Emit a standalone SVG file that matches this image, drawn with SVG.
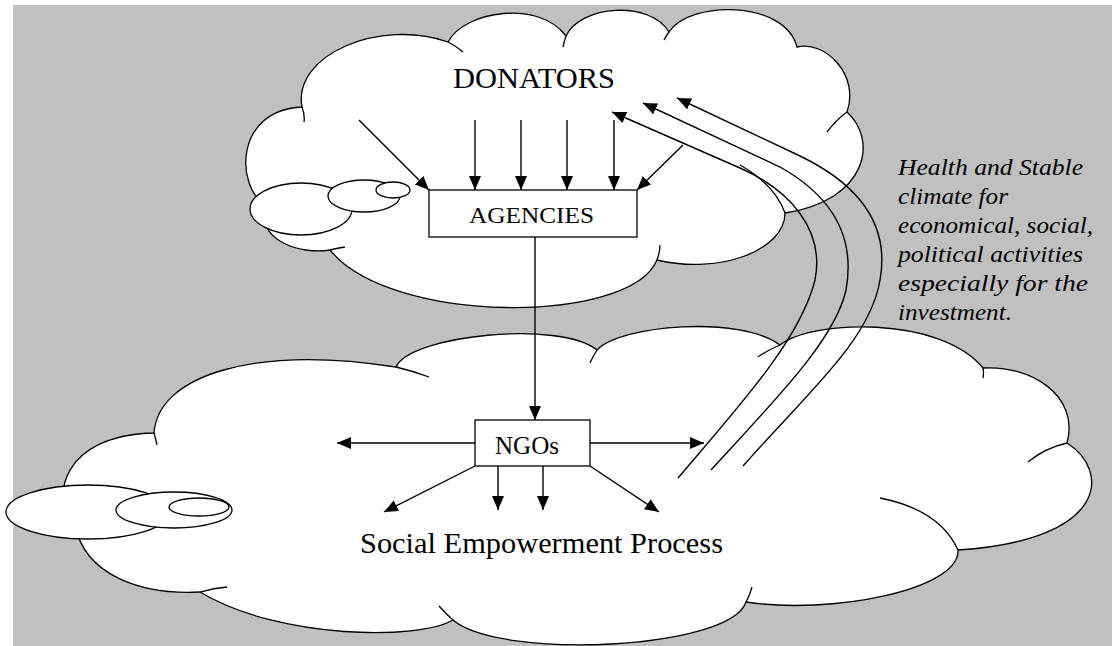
<svg xmlns="http://www.w3.org/2000/svg" width="1112" height="646" viewBox="0 0 1112 646">
<style>
.cloud{fill:#fff;stroke:#000;stroke-width:1.3}
.inner{fill:none;stroke:#000;stroke-width:1.3}
.box{fill:#fff;stroke:#000;stroke-width:1.3}
.conn{fill:none;stroke:#000;stroke-width:1.4}
.lbl{font-family:"Liberation Serif","DejaVu Serif",serif;fill:#000}
.note{font-family:"Liberation Serif","DejaVu Serif",serif;font-style:italic;font-size:24px;fill:#000}
</style>
<defs>
<marker id="ah" markerUnits="userSpaceOnUse" viewBox="0 0 14 12" refX="14" refY="6" markerWidth="14" markerHeight="12" orient="auto">
<path d="M0,0 L14,6 L0,12 z" fill="#000"/>
</marker>
</defs>
<rect x="0" y="0" width="1112" height="646" fill="#fff"/>
<rect x="13" y="5" width="1099" height="641" fill="#c0c0c0"/>

<g id="donators-cloud">
<path class="cloud" d="M302,107 C292,55 380,18 448,42 C465,10 540,0 566,36 C580,5 650,0 669,32 C690,0 785,0 797,47 C825,40 860,75 847,112 C878,140 868,200 785,213 C785,250 720,275 657,260 C630,325 390,325 330,250 C300,255 255,240 265,205 C235,185 235,110 302,107 Z"/>
<path class="inner" d="M302,107 Q305,115 304,122 M448,42 Q456,46 463,52 M566,36 Q564,42 563,47 M669,32 Q666,36 664,40 M847,112 Q836,120 827,132 M785,213 Q775,185 740,165 M657,260 Q660,252 660,245 M330,250 Q338,248 345,247"/>
<ellipse class="cloud" cx="301" cy="209" rx="51" ry="26"/>
<ellipse class="cloud" cx="364" cy="196" rx="36" ry="16"/>
<ellipse class="cloud" cx="393" cy="190" rx="17" ry="8"/>
<text class="lbl" font-family="Liberation Serif, serif" x="453" y="88" font-size="30" textLength="162" lengthAdjust="spacingAndGlyphs">DONATORS</text>
</g>

<g id="process-cloud">
<path class="cloud" d="M154,433 C158,375 255,345 396,367 C410,335 560,320 597,350 C620,325 740,315 780,345 C810,320 940,315 983,368 C1030,365 1080,395 1067,443 C1110,470 1110,540 958,550 C960,590 830,615 746,602 C730,650 500,660 453,620 C420,640 280,640 200,592 C140,595 85,575 75,525 C50,500 60,435 154,433 Z"/>
<path class="inner" d="M154,433 Q156,440 157,445 M396,367 Q413,371 429,377 M597,350 Q593,356 590,363 M780,345 Q768,350 758,357 M983,368 Q984,373 983,378 M1067,443 Q1045,448 1028,462 M958,550 Q940,510 880,498 M746,602 Q750,595 752,587 M453,620 Q445,613 439,606 M200,592 Q214,588 227,587"/>
<ellipse class="cloud" cx="88" cy="512" rx="82" ry="27"/>
<ellipse class="cloud" cx="174" cy="510" rx="58" ry="18"/>
<ellipse class="cloud" cx="199" cy="507" rx="30" ry="9"/>
<text class="lbl" x="360" y="553" font-size="29" textLength="363" lengthAdjust="spacingAndGlyphs">Social Empowerment Process</text>
</g>

<g id="agencies">
<rect class="box" x="429" y="190" width="208" height="47"/>
<text class="lbl" x="469" y="223" font-size="24" textLength="125" lengthAdjust="spacingAndGlyphs">AGENCIES</text>
</g>

<g id="ngos">
<rect class="box" x="475" y="420" width="115" height="46"/>
<text class="lbl" x="495" y="454" font-size="25" textLength="64" lengthAdjust="spacingAndGlyphs">NGOs</text>
</g>

<g id="note">
<text class="note" x="898" y="175" textLength="185" lengthAdjust="spacingAndGlyphs">Health and Stable</text>
<text class="note" x="898" y="204" textLength="110" lengthAdjust="spacingAndGlyphs">climate for</text>
<text class="note" x="898" y="233" textLength="195" lengthAdjust="spacingAndGlyphs">economical, social,</text>
<text class="note" x="898" y="262" textLength="185" lengthAdjust="spacingAndGlyphs">political activities</text>
<text class="note" x="898" y="291" textLength="190" lengthAdjust="spacingAndGlyphs">especially for the</text>
<text class="note" x="898" y="320" textLength="114" lengthAdjust="spacingAndGlyphs">investment.</text>
</g>

<g id="connectors">
<line class="conn" x1="359" y1="120" x2="429" y2="190" marker-end="url(#ah)"/>
<line class="conn" x1="475" y1="120" x2="475" y2="190" marker-end="url(#ah)"/>
<line class="conn" x1="521" y1="120" x2="521" y2="190" marker-end="url(#ah)"/>
<line class="conn" x1="567" y1="120" x2="567" y2="190" marker-end="url(#ah)"/>
<line class="conn" x1="614" y1="120" x2="614" y2="190" marker-end="url(#ah)"/>
<line class="conn" x1="683" y1="145" x2="637" y2="190" marker-end="url(#ah)"/>
<line class="conn" x1="535" y1="237" x2="535" y2="420" marker-end="url(#ah)"/>
<line class="conn" x1="475" y1="443" x2="337" y2="443" marker-end="url(#ah)"/>
<line class="conn" x1="590" y1="443" x2="704" y2="443" marker-end="url(#ah)"/>
<line class="conn" x1="475" y1="466" x2="384" y2="512" marker-end="url(#ah)"/>
<line class="conn" x1="498" y1="466" x2="498" y2="510" marker-end="url(#ah)"/>
<line class="conn" x1="543" y1="466" x2="543" y2="510" marker-end="url(#ah)"/>
<line class="conn" x1="590" y1="466" x2="659" y2="512" marker-end="url(#ah)"/>
<path class="conn" d="M678,478 C740,405 800,340 815,280 C825,230 790,190 740,168 L612,112" marker-end="url(#ah)"/>
<path class="conn" d="M711,470 C775,400 835,340 846,290 C856,235 830,195 780,167 L643,103" marker-end="url(#ah)"/>
<path class="conn" d="M743,466 C810,390 870,340 880,280 C890,225 860,185 800,156 L677,98" marker-end="url(#ah)"/>
</g>
</svg>
